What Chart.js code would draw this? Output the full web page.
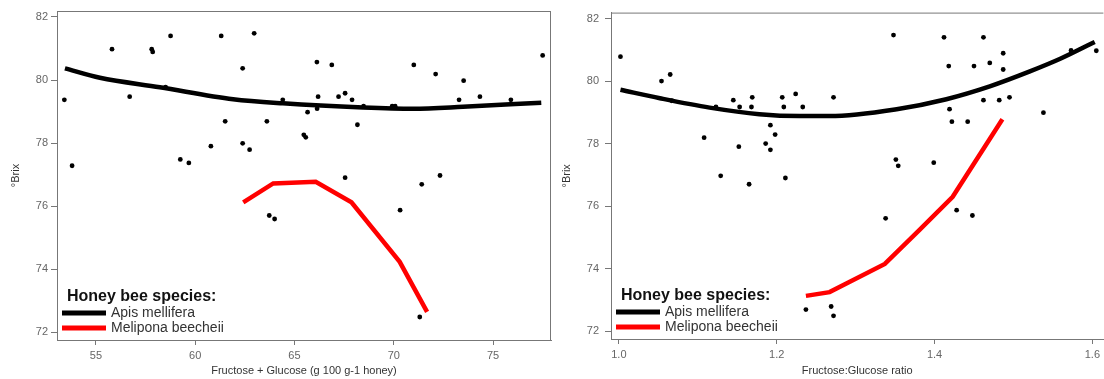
<!DOCTYPE html>
<html>
<head>
<meta charset="utf-8">
<script src="https://cdn.jsdelivr.net/npm/chart.js@4.4.1/dist/chart.umd.min.js"></script>
<style>
  html, body { margin: 0; padding: 0; background: #fff; }
  #wrap { position: relative; width: 1104px; height: 379px; overflow: hidden; }
  canvas { position: absolute; top: 0; }
  #sum-chart { left: 0; }
  #ratio-chart { left: 552px; }
</style>
</head>
<body>
<div id="wrap">
  <canvas id="sum-chart" width="552" height="379"></canvas>
  <canvas id="ratio-chart" width="552" height="379"></canvas>
</div>
<script>
// shared y ticks (°Brix)
const brixTicks = [72, 74, 76, 78, 80, 82];

// left panel: fructose + glucose
const sumTicks = [55, 60, 65, 70, 75];
const sumPointX = [53.41, 53.80, 55.81, 56.70, 57.81, 57.86, 58.51, 58.76, 59.25, 59.68, 60.79, 61.31,
  61.51, 62.39, 62.39, 62.74, 62.97, 63.61, 64.41, 66.13, 66.88, 66.19, 66.14, 65.66, 65.47, 65.57,
  67.22, 67.55, 67.90, 68.17, 68.48, 69.92, 70.07, 71.01, 72.11, 73.52, 73.29, 74.34, 75.90, 77.50,
  67.55, 71.41, 72.33, 63.73, 64.00, 70.32, 71.31];
const sumPointY = [79.37, 77.28, 80.98, 79.47, 80.98, 80.89, 79.77, 81.40, 77.48, 77.37, 77.90, 81.40,
  78.69, 80.37, 77.99, 77.79, 81.48, 78.69, 79.37, 80.57, 80.48, 79.47, 79.09, 78.98, 78.26, 78.18,
  79.47, 79.58, 79.37, 78.58, 79.17, 79.17, 79.17, 80.48, 80.19, 79.98, 79.37, 79.47, 79.37, 80.78,
  76.90, 76.69, 76.97, 75.70, 75.59, 75.87, 72.48];
const sumApisX = [53.44, 55.20, 58.22, 61.91, 64.41, 68.46, 70.97, 73.49, 77.43];
const sumApisY = [80.37, 80.07, 79.77, 79.39, 79.26, 79.13, 79.09, 79.15, 79.28];
const sumMeliX = [62.42, 63.93, 66.07, 67.87, 70.30, 71.68];
const sumMeliY = [76.12, 76.72, 76.77, 76.12, 74.23, 72.64];

// right panel: fructose:glucose ratio
const ratioTicks = [1.0, 1.2, 1.4, 1.6];
const ratioPointX = [1.002, 1.054, 1.065, 1.067, 1.108, 1.123, 1.129, 1.145, 1.152, 1.153, 1.165, 1.168,
  1.169, 1.186, 1.192, 1.192, 1.198, 1.207, 1.209, 1.211, 1.224, 1.233, 1.272, 1.348, 1.351, 1.354,
  1.399, 1.412, 1.418, 1.419, 1.422, 1.442, 1.450, 1.462, 1.462, 1.470, 1.482, 1.487, 1.487, 1.495,
  1.538, 1.573, 1.605, 1.338, 1.428, 1.448, 1.269, 1.272, 1.237];
const ratioPointY = [80.78, 80.00, 80.21, 79.37, 78.19, 79.17, 76.97, 79.39, 77.90, 79.17, 76.70, 79.17,
  79.48, 78.00, 78.59, 77.80, 78.29, 79.48, 79.17, 76.90, 79.59, 79.17, 79.48, 81.47, 77.49, 77.29,
  77.39, 81.40, 80.48, 79.10, 78.70, 78.70, 80.48, 81.40, 79.39, 80.58, 79.39, 80.89, 80.37, 79.48,
  78.99, 80.98, 80.97, 75.61, 75.87, 75.70, 72.79, 72.49, 72.69];
const ratioApisX = [1.002, 1.052, 1.115, 1.178, 1.229, 1.267, 1.352, 1.415, 1.470, 1.520, 1.560, 1.603];
const ratioApisY = [79.72, 79.45, 79.15, 78.94, 78.88, 78.88, 79.10, 79.42, 79.83, 80.30, 80.72, 81.25];
const ratioMeliX = [1.237, 1.267, 1.337, 1.381, 1.423, 1.486];
const ratioMeliY = [73.13, 73.25, 74.15, 75.24, 76.30, 78.78];

const speciesNames = ["Apis mellifera", "Melipona beecheii"];
const keyTitle = "Honey bee species:";

Chart.defaults.font.family = "'Liberation Sans', Arial, sans-serif";

const toXY = (xs, ys) => xs.map((x, i) => ({ x, y: ys[i] }));

// top + right edges of the plot box
const framePlugin = {
  id: "frame",
  afterDraw(chart, args, opts) {
    const { ctx, chartArea: a } = chart;
    ctx.save();
    ctx.strokeStyle = "#777";
    ctx.lineWidth = 1;
    ctx.beginPath();
    ctx.moveTo(a.left, a.top + 0.5);
    ctx.lineTo(a.right, a.top + 0.5);
    if (opts.right) {
      ctx.moveTo(a.right - 0.5, a.top);
      ctx.lineTo(a.right - 0.5, a.bottom);
    }
    ctx.stroke();
    ctx.restore();
  },
};

// legend drawn inside the plot, lower left
const keyPlugin = {
  id: "speciesKey",
  afterDatasetsDraw(chart) {
    const { ctx, chartArea: a } = chart;
    const lines = chart.data.datasets.filter((d) => d.showLine);
    ctx.save();
    ctx.textBaseline = "middle";
    ctx.textAlign = "left";
    ctx.fillStyle = "#111";
    ctx.font = "bold 16px 'Liberation Sans', Arial, sans-serif";
    ctx.fillText(keyTitle, a.left + 10, a.bottom - 43);
    ctx.font = "14px 'Liberation Sans', Arial, sans-serif";
    lines.forEach((d, i) => {
      const y = a.bottom - 27 + i * 15;
      ctx.strokeStyle = d.borderColor;
      ctx.lineWidth = 5;
      ctx.beginPath();
      ctx.moveTo(a.left + 5, y);
      ctx.lineTo(a.left + 49, y);
      ctx.stroke();
      ctx.fillStyle = "#333";
      ctx.fillText(d.label, a.left + 54, y);
    });
    ctx.restore();
  },
};

function makeChart(el, cfg) {
  return new Chart(el, {
    type: "scatter",
    data: {
      datasets: [
        {
          label: speciesNames[0],
          data: toXY(cfg.apisX, cfg.apisY),
          showLine: true,
          borderColor: "#000",
          borderWidth: 4.5,
          cubicInterpolationMode: "monotone",
          pointRadius: 0,
        },
        {
          label: speciesNames[1],
          data: toXY(cfg.meliX, cfg.meliY),
          showLine: true,
          borderColor: "#f00",
          borderWidth: 4.5,
          tension: 0,
          pointRadius: 0,
        },
        {
          label: "samples",
          data: toXY(cfg.pointX, cfg.pointY),
          showLine: false,
          backgroundColor: "#000",
          borderWidth: 0,
          pointRadius: 2.4,
        },
      ],
    },
    options: {
      responsive: false,
      animation: false,
      events: [],
      layout: {
        autoPadding: false,
        padding: { top: 11, right: cfg.padRight, bottom: 0, left: 0 },
      },
      plugins: {
        legend: { display: false },
        tooltip: { enabled: false },
        frame: { right: cfg.frameRight },
      },
      scales: {
        x: {
          type: "linear",
          min: cfg.xMin,
          max: cfg.xMax,
          afterFit: (s) => { s.height = cfg.xHeight; },
          afterBuildTicks: (s) => { s.ticks = cfg.xTicks.map((v) => ({ value: v })); },
          grid: { drawOnChartArea: false, drawTicks: true, tickLength: 5, tickColor: "#777" },
          border: { display: true, color: "#777" },
          ticks: {
            color: "#666",
            font: { size: 11 },
            padding: 4,
            callback: cfg.xFormat,
          },
          title: {
            display: true,
            text: cfg.xTitle,
            color: "#333",
            font: { size: 11 },
            padding: { top: 0, bottom: 1 },
          },
        },
        y: {
          type: "linear",
          min: 71.75,
          max: 82.19,
          afterFit: (s) => { s.width = cfg.yWidth; },
          afterBuildTicks: (s) => { s.ticks = brixTicks.map((v) => ({ value: v })); },
          grid: { drawOnChartArea: false, drawTicks: true, tickLength: 6, tickColor: "#777" },
          border: { display: true, color: "#777" },
          ticks: { color: "#666", font: { size: 11 }, padding: cfg.yPad },
          title: {
            display: true,
            text: "°Brix",
            color: "#333",
            font: { size: 11 },
            padding: { top: cfg.yTitlePad, bottom: 0 },
          },
        },
      },
    },
    plugins: [framePlugin, keyPlugin],
  });
}

makeChart(document.getElementById("sum-chart"), {
  pointX: sumPointX, pointY: sumPointY,
  apisX: sumApisX, apisY: sumApisY,
  meliX: sumMeliX, meliY: sumMeliY,
  xTicks: sumTicks,
  xFormat: (v) => String(v),
  xTitle: "Fructose + Glucose (g 100 g-1 honey)",
  xMin: 53.04, xMax: 77.92,
  yWidth: 57, xHeight: 39, padRight: 1,
  yPad: 3, yTitlePad: 9, frameRight: true,
});

makeChart(document.getElementById("ratio-chart"), {
  pointX: ratioPointX, pointY: ratioPointY,
  apisX: ratioApisX, apisY: ratioApisY,
  meliX: ratioMeliX, meliY: ratioMeliY,
  xTicks: ratioTicks,
  xFormat: (v) => v.toFixed(1),
  xTitle: "Fructose:Glucose ratio",
  xMin: 0.99, xMax: 1.614,
  yWidth: 59, xHeight: 40, padRight: 0,
  yPad: 6, yTitlePad: 8, frameRight: false,
});
</script>
</body>
</html>
